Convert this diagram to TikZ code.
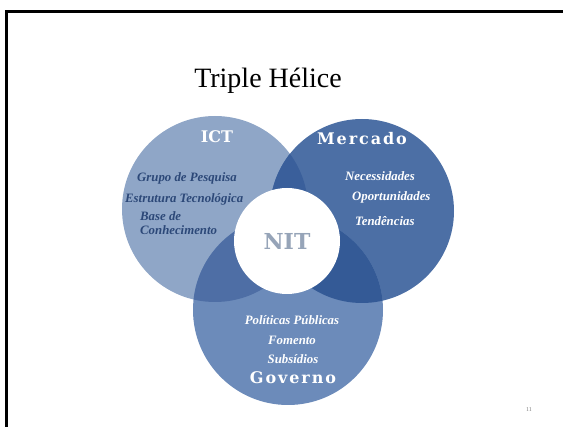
\documentclass[tikz,border=0pt]{standalone}
\usepackage{fontspec}
\setmainfont{Liberation Serif}
\newfontfamily\vennfont{DejaVu Serif}
\usetikzlibrary{positioning}

\definecolor{ictblue}{RGB}{143,166,199}
\definecolor{merblue}{RGB}{76,111,165}
\definecolor{govblue}{RGB}{108,139,186}
\definecolor{ictmer}{RGB}{58,95,155}
\definecolor{ictgov}{RGB}{78,110,165}
\definecolor{mergov}{RGB}{52,90,150}
\definecolor{darktxt}{RGB}{44,72,120}
\definecolor{nitgray}{RGB}{150,164,184}

\tikzset{
  ring/.style={circle, inner sep=0pt, outer sep=0pt},
  head/.style={font=\vennfont\bfseries\fontsize{16}{18}\selectfont, text=white},
  item/.style={font=\bfseries\itshape\fontsize{12.8}{14}\selectfont, text=white, inner sep=0pt},
}

\begin{document}
\begin{tikzpicture}[x=1pt,y=-1pt]
\useasboundingbox (0,0) rectangle (563,427);
\clip (0,0) rectangle (563,427);
\draw[line width=3pt] (6.5,11.5) rectangle (620,480);

\node[anchor=base] (title) at (268,88) {\fontsize{28}{32}\selectfont Triple Hélice};

\node[ring, fill=ictblue, minimum size=186pt] (ict) at (215,209) {};
\node[ring, fill=merblue, minimum size=184pt] (mer) at (362,211) {};
\node[ring, fill=govblue, minimum size=190pt] (gov) at (288,310) {};

\begin{scope}
  \clip (ict.center) circle[radius=93];
  \fill[ictmer] (mer.center) circle[radius=92];
  \fill[ictgov] (gov.center) circle[radius=95];
\end{scope}
\begin{scope}
  \clip (mer.center) circle[radius=92];
  \fill[mergov] (gov.center) circle[radius=95];
\end{scope}

\node[ring, fill=white, minimum size=106pt, text=nitgray,
  font=\vennfont\bfseries\fontsize{22}{24}\selectfont] (nit) at (287,241) {NIT};

\node[head] (ictlab) at (217,137) {ICT};
\node[head] (merlab) at (362,139) {\addfontfeature{LetterSpace=12}Mercado};
\node[head] (govlab) at (293,378) {\addfontfeature{LetterSpace=12}Governo};

\node[item, text=darktxt, anchor=west] (grupo) at (137,178) {Grupo de Pesquisa};
\node[item, text=darktxt, anchor=west] (estr) at (125,199) {Estrutura Tecnológica};
\node[item, text=darktxt, anchor=west, align=left] (base) at (140,223) {Base de\\Conhecimento};

\node[item, anchor=west] (nec) at (345,176) {Necessidades};
\node[item, anchor=west] (opo) at (352,197) {Oportunidades};
\node[item, anchor=west] (ten) at (355,221) {Tendências};

\node[item] (pol) at (292,320) {Políticas Públicas};
\node[item] (fom) at (292,340) {Fomento};
\node[item] (sub) at (293,359) {Subsídios};

\node[text=gray, font=\fontsize{6}{7}\selectfont] (pg) at (529,410) {11};
\end{tikzpicture}
\end{document}
